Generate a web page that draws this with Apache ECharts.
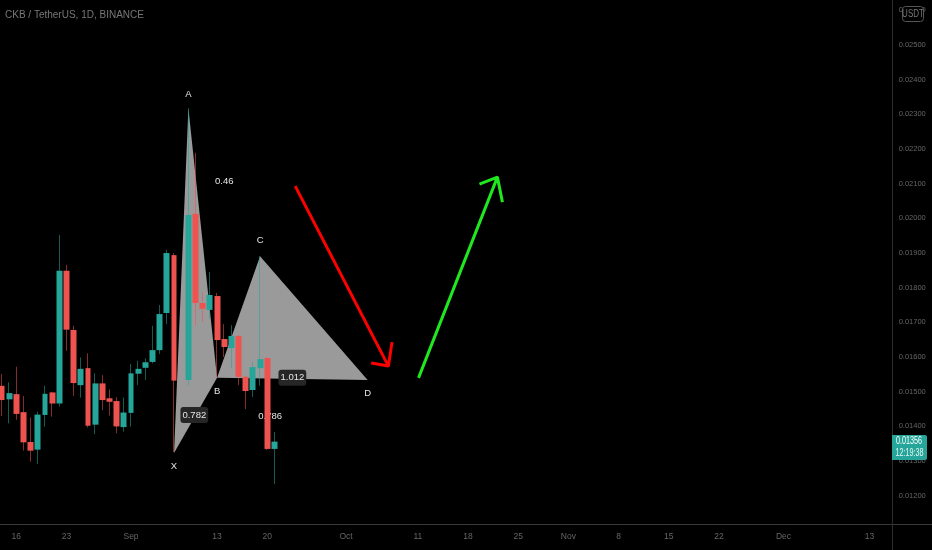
<!DOCTYPE html>
<html>
<head>
<meta charset="utf-8">
<style>html,body{margin:0;padding:0;background:#000;overflow:hidden}#c{width:932px;height:550px}</style>
<script src="https://cdn.jsdelivr.net/npm/echarts@6/dist/echarts.min.js"></script>
</head>
<body>
<div id="c"></div>
<script>
const dayCount = 125;
const tickDays = [2, 9, 18, 30, 37, 48, 58, 65, 72, 79, 86, 93, 100, 109, 121];
const tickLabels = ['16', '23', 'Sep', '13', '20', 'Oct', '11', '18', '25', 'Nov', '8', '15', '22', 'Dec', '13'];
const opens = [0.01517,0.01478,0.01493,0.01441,0.01355,0.01333,0.01433,0.01498,0.01466,0.01849,0.01678,0.01519,0.01568,0.01405,0.01524,0.01481,0.01473,0.01398,0.01439,0.01552,0.01569,0.01586,0.01620,0.01727,0.01894,null,0.01534,0.02013,0.01756,0.01736,0.01776,0.01652,0.01626,0.01661,0.01543,0.01505,0.01568,0.01597,0.01335];
const closes = [0.01476,0.01496,0.01436,0.01354,0.01330,0.01434,0.01494,0.01466,0.01849,0.01679,0.01525,0.01566,0.01402,0.01524,0.01476,0.01471,0.01400,0.01440,0.01553,0.01566,0.01585,0.01620,0.01724,0.01900,0.01532,null,0.02010,0.01756,0.01739,0.01779,0.01649,0.01629,0.01661,0.01543,0.01502,0.01571,0.01594,0.01335,0.01356];
const lows = [0.01430,0.01409,0.01419,0.01330,0.01298,0.01292,0.01399,0.01428,0.01457,0.01618,0.01488,0.01483,0.01397,0.01378,0.01447,0.01431,0.01380,0.01385,0.01399,0.01519,0.01534,0.01582,0.01609,0.01695,0.01326,null,0.01519,0.01692,0.01701,0.01710,0.01540,0.01600,0.01568,0.01519,0.01450,0.01485,0.01517,0.01332,0.01234];
const highs = [0.01551,0.01527,0.01572,0.01488,0.01426,0.01442,0.01517,0.01500,0.01952,0.01866,0.01690,0.01599,0.01611,0.01553,0.01548,0.01507,0.01484,0.01483,0.01580,0.01589,0.01596,0.01690,0.01750,0.01909,0.01900,null,0.02318,0.02189,0.01785,0.01845,0.01785,0.01695,0.01692,0.01664,0.01546,0.01586,0.01891,0.01600,0.01384];
// Harmonic pattern vertices: [day index, price]
const triangleXAB = [[24, 0.01323], [26, 0.02318], [30, 0.01540]];
const triangleBCD = [[30, 0.01540], [36, 0.01891], [51, 0.01534]];
const patternLabels = [
  ['A', 26, 0.02359, false], ['X', 24, 0.01286, false], ['B', 30, 0.01502, false],
  ['C', 36, 0.01938, false], ['D', 51, 0.01496, false], ['0.46', 31, 0.02108, false],
  ['0.782', 26.83, 0.01433, true], ['1.012', 40.5, 0.01540, true], ['0.786', 37.4, 0.01430, false]
];
const redArrow = [[40.9, 0.02093], [53.9, 0.01574], [51.5, 0.01583], [53.9, 0.01574], [54.4, 0.01643]];
const greenArrow = [[58.1, 0.01540], [69.1, 0.02119], [66.6, 0.02099], [69.1, 0.02119], [69.8, 0.02047]];
const lastPrice = '0.01356';
const countdown = '12:19:38';

const categories = Array.from({length: dayCount}, (_, i) => {
  const d = new Date(Date.UTC(2021, 7, 14 + i));
  return d.toISOString().slice(0, 10);
});
const wicks = opens.map((o, i) => o === null ? '-' : [o, closes[i], lows[i], highs[i]]);
const bodies = opens.map((o, i) => o === null ? '-' : [o, closes[i], Math.min(o, closes[i]), Math.max(o, closes[i])]);
const sans = '"Liberation Sans", sans-serif';

function triangleRender(points) {
  return function (params, api) {
    return {
      type: 'polygon',
      shape: {points: points.map(p => api.coord(p))},
      style: {fill: '#9a9a9a'}
    };
  };
}

const chart = echarts.init(document.getElementById('c'), null, {renderer: 'canvas'});
chart.setOption({
  animation: false,
  backgroundColor: '#000',
  title: {
    text: 'CKB / TetherUS, 1D, BINANCE', left: 5, top: 10, padding: 0,
    textStyle: {color: '#777', fontSize: 10, fontWeight: 'normal', fontFamily: sans}
  },
  grid: {left: -1.625, top: -24.3, width: 896.25, height: 554.7, outerBoundsMode: 'none', containLabel: false},
  xAxis: [
    {
      type: 'category', data: categories, boundaryGap: true,
      axisLine: {show: false}, axisTick: {show: false}, splitLine: {show: false},
      axisLabel: {
        color: '#666', fontSize: 8.5, fontFamily: sans, margin: 2,
        interval: (i) => tickDays.includes(i),
        formatter: (v, i) => tickLabels[tickDays.indexOf(i)] || ''
      }
    },
    {type: 'value', min: -0.5, max: dayCount - 0.5, show: false}
  ],
  yAxis: {
    type: 'value', position: 'right', min: 0.011, max: 0.027, interval: 0.001,
    axisLine: {show: false}, axisTick: {show: false}, splitLine: {show: false},
    axisLabel: {
      color: '#666', fontSize: 7.5, fontFamily: sans, margin: 4,
      showMinLabel: false, showMaxLabel: false,
      formatter: v => v.toFixed(5)
    }
  },
  series: [
    {
      type: 'custom', name: 'XAB', xAxisIndex: 1, z: 1, data: [0], clip: false,
      renderItem: triangleRender(triangleXAB)
    },
    {
      type: 'custom', name: 'BCD', xAxisIndex: 1, z: 1, data: [0], clip: false,
      renderItem: triangleRender(triangleBCD)
    },
    {
      type: 'custom', name: 'labels', xAxisIndex: 1, z: 2, clip: false,
      data: patternLabels.map(l => [l[1], l[2]]),
      renderItem: function (params, api) {
        const l = patternLabels[params.dataIndex];
        const p = api.coord([l[1], l[2]]);
        return {
          type: 'text', x: p[0], y: p[1],
          style: {
            text: l[0], fill: '#e6e6e6', font: '9.5px ' + sans,
            align: 'center', verticalAlign: 'middle',
            backgroundColor: l[3] ? '#262626' : 'transparent',
            padding: l[3] ? [3, 2, 3, 2] : 0, borderRadius: 3
          }
        };
      }
    },
    {
      type: 'candlestick', name: 'wicks', xAxisIndex: 0, z: 3, data: wicks, barWidth: 1,
      itemStyle: {
        color: 'rgba(38,166,154,0.55)', color0: 'rgba(239,83,80,0.55)',
        borderColor: 'rgba(38,166,154,0.55)', borderColor0: 'rgba(239,83,80,0.55)', borderWidth: 1
      }
    },
    {
      type: 'candlestick', name: 'CKB/USDT', xAxisIndex: 0, z: 3, data: bodies, barWidth: 6.4,
      itemStyle: {
        color: '#26a69a', color0: '#ef5350',
        borderColor: '#26a69a', borderColor0: '#ef5350', borderWidth: 0
      }
    },
    {
      type: 'line', name: 'down arrow', xAxisIndex: 1, z: 4, data: redArrow, symbol: 'none',
      lineStyle: {color: '#ff0000', width: 3}
    },
    {
      type: 'line', name: 'up arrow', xAxisIndex: 1, z: 4, data: greenArrow, symbol: 'none',
      lineStyle: {color: '#1fe81f', width: 3}
    }
  ],
  graphic: [
    {type: 'line', z: 10, shape: {x1: 0, y1: 524.5, x2: 932, y2: 524.5}, style: {stroke: '#3a3a3a', lineWidth: 1}},
    {type: 'line', z: 10, shape: {x1: 892.5, y1: 0, x2: 892.5, y2: 550}, style: {stroke: '#2c2c2c', lineWidth: 1}},
    {type: 'rect', z: 11, shape: {x: 902.5, y: 6.5, width: 21, height: 15, r: 3}, style: {fill: '#000', stroke: '#555', lineWidth: 1}},
    {type: 'text', z: 12, x: 913, y: 14, scaleX: 0.8, style: {text: 'USDT', fill: '#777', font: '10px ' + sans, align: 'center', verticalAlign: 'middle'}},
    {type: 'rect', z: 11, shape: {x: 892, y: 435, width: 35, height: 25, r: [0, 2, 2, 0]}, style: {fill: '#26a69a'}},
    {type: 'text', z: 12, x: 909, y: 441.5, scaleX: 0.72, style: {text: lastPrice, fill: '#fff', font: '10px ' + sans, align: 'center', verticalAlign: 'middle'}},
    {type: 'text', z: 12, x: 909.5, y: 453.5, scaleX: 0.72, style: {text: countdown, fill: '#e6f5f3', font: '10px ' + sans, align: 'center', verticalAlign: 'middle'}}
  ]
});
</script>
</body>
</html>
